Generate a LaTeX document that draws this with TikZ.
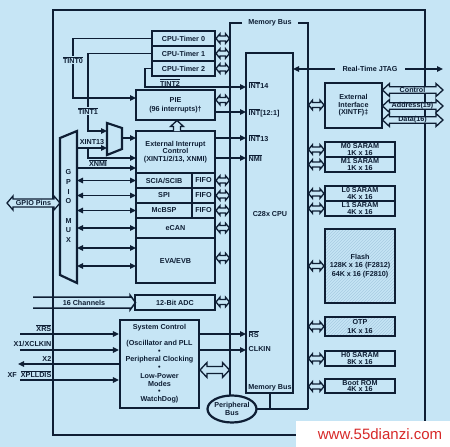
\documentclass[tikz,border=0pt]{standalone}
\usepackage{fontspec}
\setmainfont{Liberation Sans}
\usetikzlibrary{arrows.meta,patterns}
\definecolor{bg}{RGB}{198,229,245}
\definecolor{ln}{RGB}{14,30,52}
\definecolor{hatchc}{RGB}{168,204,226}
\definecolor{wmred}{RGB}{215,40,40}
\newcommand\ovl[1]{$\overline{\mbox{#1}}$}
% hollow double arrow: x1, x2, y, shaft half, head half, head length
\newcommand\dblarr[6]{%
  \pgfmathsetmacro\dax{#1+#6}\pgfmathsetmacro\dbx{#2-#6}%
  \filldraw[hollowarr] (#1,#3) -- (\dax,#3-#5) -- (\dax,#3-#4) -- (\dbx,#3-#4) -- (\dbx,#3-#5)
    -- (#2,#3) -- (\dbx,#3+#5) -- (\dbx,#3+#4) -- (\dax,#3+#4) -- (\dax,#3+#5) -- cycle;}
\begin{document}
\begin{tikzpicture}[x=1pt,y=-1pt,
  font=\fontsize{7.2}{7.6}\selectfont\bfseries,
  box/.style={draw=ln, line width=2.2pt, inner sep=0pt, text=ln, align=center},
  hollowarr/.style={draw=ln, fill=bg, line width=1.3pt, line join=miter},
  con/.style={draw=ln, line width=1.5pt, -{Triangle[length=6pt,width=5.5pt]}},
  dcon/.style={draw=ln, line width=1.5pt, {Triangle[length=6pt,width=5.5pt]}-{Triangle[length=6pt,width=5.5pt]}},
  bus/.style={draw=ln, line width=2.8pt},
  lbl/.style={text=ln, inner sep=0.5pt},
  hatched/.style={pattern=north east lines, pattern color=hatchc}]
\useasboundingbox (0,0) rectangle (450,447);
\fill[bg] (0,0) rectangle (450,447);

% outer frame
\draw[ln, line width=1.6pt] (53,10) rectangle (425,435);

% buses
\draw[bus] (242,23) -- (230,23) -- (230,396);
\draw[bus] (298,23) -- (308,23) -- (308,409);
\node[lbl] (mbtop) at (270,23) {Memory Bus};

% CPU timers
\node[box, minimum width=63pt, minimum height=15pt] (t0) at (183.5,38.5) {CPU-Timer 0};
\node[box, minimum width=63pt, minimum height=15pt] (t1) at (183.5,53.5) {CPU-Timer 1};
\node[box, minimum width=63pt, minimum height=15pt] (t2) at (183.5,68.5) {CPU-Timer 2};

% PIE
\node[box, minimum width=79pt, minimum height=30pt] (pie) at (175.5,105) {};
\node[lbl] (piet) at (175.5,100) {PIE};
\node[lbl] (pies) at (175.5,109.5) {(96 interrupts)\textdagger};

% External interrupt control
\node[box, minimum width=79pt, minimum height=42pt] (xic) at (175.5,152) {External Interrupt\\Control\\(XINT1/2/13, XNMI)};

% serial peripherals
\node[box, minimum width=56pt, minimum height=15pt] (sci) at (164,180.5) {SCIA/SCIB};
\node[box, minimum width=56pt, minimum height=15pt] (spi) at (164,195.5) {SPI};
\node[box, minimum width=56pt, minimum height=15pt] (mcb) at (164,210.5) {McBSP};
\node[box, minimum width=23pt, minimum height=15pt] (f1) at (203.5,180.5) {FIFO};
\node[box, minimum width=23pt, minimum height=15pt] (f2) at (203.5,195.5) {FIFO};
\node[box, minimum width=23pt, minimum height=15pt] (f3) at (203.5,210.5) {FIFO};
\node[box, minimum width=79pt, minimum height=20pt] (ecan) at (175.5,228) {eCAN};
\node[box, minimum width=79pt, minimum height=45pt] (eva) at (175.5,260.5) {EVA/EVB};

% ADC
\node[box, minimum width=80pt, minimum height=15pt] (adc) at (175,302.5) {12-Bit ADC};

% System control
\node[box, minimum width=79pt, minimum height=88pt] (sys) at (159.5,364) {};
\node[lbl] (sct1) at (159.5,328) {System Control};
\node[lbl] (sct2) at (159.5,344) {(Oscillator and PLL};
\node[lbl] (sct3) at (159.5,352) {\textbullet};
\node[lbl] (sct4) at (159.5,360) {Peripheral Clocking};
\node[lbl] (sct5) at (159.5,368) {\textbullet};
\node[lbl] (sct6) at (159.5,376) {Low-Power};
\node[lbl] (sct7) at (159.5,384) {Modes};
\node[lbl] (sct8) at (159.5,392) {\textbullet};
\node[lbl] (sct9) at (159.5,400) {WatchDog)};

% Peripheral bus ellipse
\draw[ln, line width=2.2pt, fill=bg] (232,409) ellipse (24.5 and 13.5);
\node[lbl, align=center, font=\fontsize{7.2}{8}\selectfont\bfseries] (pbus) at (232,409) {Peripheral\\Bus};

% CPU
\node[box, minimum width=47pt, minimum height=340pt] (cpu) at (269.5,223) {};
\node[lbl] (cpul) at (270,214) {C28x CPU};
\node[lbl] (mbbot) at (270,387.5) {Memory Bus};
\draw[ln, line width=2.2pt] (270,393) -- (270,409) -- (256.5,409);
\draw[ln, line width=2.2pt] (270,409) -- (308,409);

% XINTF
\node[box, minimum width=57pt, minimum height=45pt] (xintf) at (353.5,105.5) {External\\Interface\\(XINTF)\textdaggerdbl};

% memories
\begin{scope}[every node/.append style={box, minimum width=70pt, font=\fontsize{7.2}{6.3}\selectfont\bfseries}]
\node[minimum height=15pt] (m0) at (360,149.5) {M0 SARAM\\1K x 16};
\node[minimum height=15pt] (m1) at (360,164.5) {M1 SARAM\\1K x 16};
\node[minimum height=15pt] (l0) at (360,193.5) {L0 SARAM\\4K x 16};
\node[minimum height=15pt] (l1) at (360,208.5) {L1 SARAM\\4K x 16};
\node[minimum height=74pt, hatched, font=\fontsize{7.2}{8.8}\selectfont\bfseries] (flash) at (360,266) {Flash\\128K x 16 (F2812)\\64K x 16 (F2810)};
\node[minimum height=19pt, hatched, font=\fontsize{7.2}{9}\selectfont\bfseries] (otp) at (360,326.5) {OTP\\1K x 16};
\node[minimum height=15pt] (h0) at (360,358.5) {H0 SARAM\\8K x 16};
\node[minimum height=14pt] (brom) at (360,386) {Boot ROM\\4K x 16};
\end{scope}

% bus double arrows (peripheral side)
\foreach \yy in {38.5,53.5,68.5,100,180.5,195.5,210.5,228,258,302}
  \dblarr{216}{229.5}{\yy}{2.5}{4.8}{4};
% memory side
\foreach \yy in {105,149.5,164.5,193.5,208.5,266,326.5,358.5,386.5}
  \dblarr{308.5}{324}{\yy}{2.5}{4.8}{4};
% system control <-> peripheral bus
\dblarr{200}{229.5}{370}{3.5}{7.5}{7}

% PIE up arrow
\filldraw[hollowarr] (173.5,131) -- (173.5,126.5) -- (170.5,126.5) -- (177,120.5) -- (183.5,126.5) -- (180.5,126.5) -- (180.5,131);

% XINTF external arrows
\dblarr{382.5}{443}{90}{3.2}{6.5}{7}
\dblarr{382.5}{443}{106}{3.2}{6.5}{7}
\dblarr{382.5}{443}{120}{3.2}{6.5}{7}
\node[lbl] (ctl) at (412.5,90) {Control};
\node[lbl] (addr) at (412.5,106) {Address(19)};
\node[lbl] (data) at (412.5,120) {Data(16)};

% GPIO pins arrow
\dblarr{7}{60}{203}{4}{7}{6}
\node[lbl] (gpiop) at (33.5,203) {GPIO Pins};

% GPIO MUX
\draw[ln, line width=2.2pt, fill=bg] (60,138) -- (77,131) -- (77,283) -- (60,275) -- cycle;
\node[lbl] (gm1) at (68.5,172) {G};
\node[lbl] (gm2) at (68.5,182) {P};
\node[lbl] (gm3) at (68.5,192) {I};
\node[lbl] (gm4) at (68.5,201) {O};
\node[lbl] (gm5) at (68.5,221) {M};
\node[lbl] (gm6) at (68.5,230) {U};
\node[lbl] (gm7) at (68.5,240) {X};

% XINT13 mux
\draw[ln, line width=2.2pt, fill=bg] (107,123) -- (122,128) -- (122,149) -- (107,155) -- cycle;
\coordinate (muxin1) at (107,131);
\coordinate (muxin2) at (107,148);
\coordinate (muxout) at (122,138);

% 16 channels arrow
\draw[ln, line width=1.5pt] (33,297) -- (130,297) -- (130,295) -- (135.5,302.5) -- (130,310) -- (130,308) -- (33,308);
\node[lbl] (chan) at (84,302.5) {16 Channels};

% timer interrupt lines
\draw[con] (t0.west) -- (73,38.5) -- (73,98) -- (136,98);
\node[lbl, fill=bg] (tint0) at (73,60) {\ovl{TINT0}};
\draw[con] (t1.west) -- (88,53.5) -- (88,131) -- (muxin1);
\node[lbl, fill=bg] (tint1) at (88,111) {\ovl{TINT1}};
\draw[con] (t2.west) -- (145,68.5) -- (145,87) -- (246,87);
\node[lbl] (tint2) at (170,82.5) {\ovl{TINT2}};

% XINT13, XNMI
\draw[con] (77,148) -- (muxin2);
\node[lbl] (xint13) at (92,142) {XINT13};
\draw[con] (88,148) -- (88,158) -- (136,158);
\node[lbl] (xnmi) at (98,163) {\ovl{XNMI}};
\draw[con] (muxout) -- (136,138);
\draw[con] (77,168) -- (136,168);
\foreach \yy in {180.5,195.5,210.5,228,248,266}
  \draw[dcon] (77,\yy) -- (136,\yy);

% interrupts to CPU
\draw[con] (pie.east |- 0,112) -- (246,112);
\draw[con] (xic.east |- 0,138) -- (246,138);
\draw[con] (xic.east |- 0,158) -- (246,158);
\node[lbl, anchor=west] (i14) at (248,85.5) {\ovl{INT}14};
\node[lbl, anchor=west] (i12) at (248,112.5) {\ovl{INT}[12:1]};
\node[lbl, anchor=west] (i13) at (248,138) {\ovl{INT}13};
\node[lbl, anchor=west] (inmi) at (248,158) {\ovl{NMI}};

% system control to CPU
\draw[con] (sys.east |- 0,334) -- (246,334);
\draw[con] (sys.east |- 0,350) -- (246,350);
\node[lbl, anchor=west] (irs) at (248,334) {\ovl{RS}};
\node[lbl, anchor=west] (iclk) at (248,349.5) {CLKIN};

% external pins
\draw[con] (20,334) -- (sys.west |- 0,334);
\draw[con] (20,350) -- (sys.west |- 0,350);
\draw[con] (sys.west |- 0,364) -- (18,364);
\draw[con] (20,380) -- (sys.west |- 0,380);
\node[lbl, anchor=east] (pxrs) at (52,328.5) {\ovl{XRS}};
\node[lbl, anchor=east] (px1) at (52,344) {X1/XCLKIN};
\node[lbl, anchor=east] (px2) at (52,359) {X2};
\node[lbl, anchor=east] (pxf) at (52,374) {XF\hspace{4pt}\ovl{XPLLDIS}};

% JTAG
\draw[dcon] (293,69) -- (443,69);
\node[lbl, fill=bg, inner xsep=8pt, inner ysep=2pt] (jtag) at (370,69) {Real-Time JTAG};

% watermark
\fill[white] (296,421) rectangle (450,447);
\node[text=wmred, font=\fontsize{15}{15}\selectfont, inner sep=0pt] (wm) at (380,434) {www.55dianzi.com};
\end{tikzpicture}
\end{document}
